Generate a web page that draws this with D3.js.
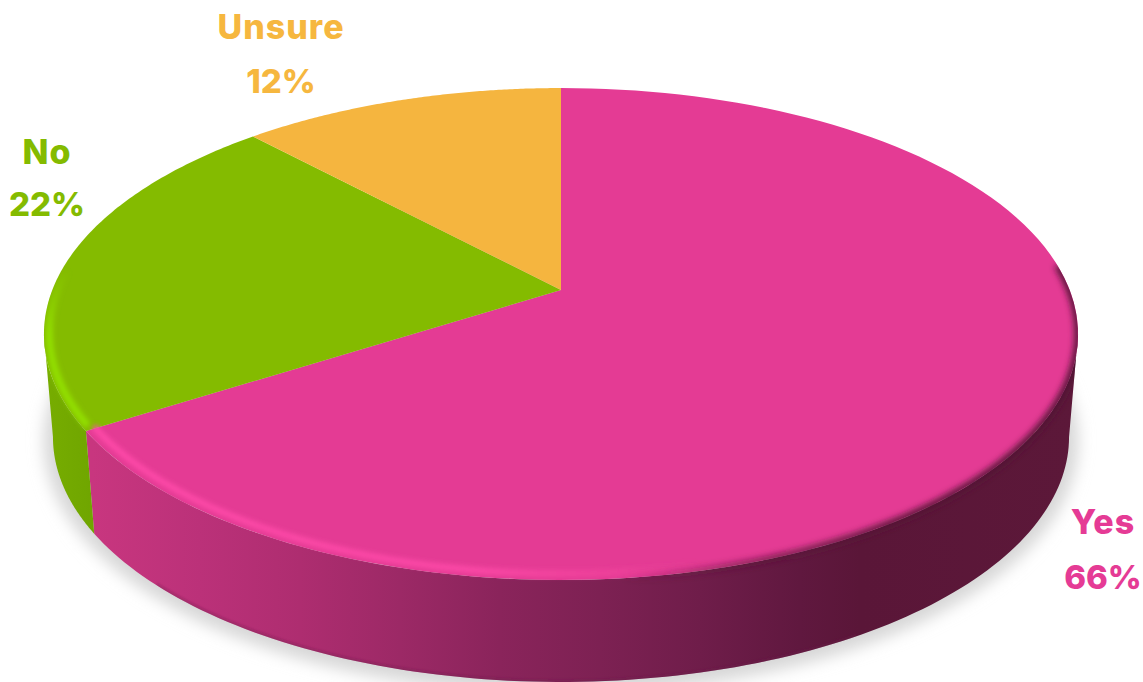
<!DOCTYPE html>
<html>
<head>
<meta charset="utf-8">
<script src="https://cdn.jsdelivr.net/npm/d3@7"></script>
<style>
html,body{margin:0;padding:0;background:#fff;overflow:hidden}
svg{display:block}
text{font-family:Inter,"Noto Sans",sans-serif;font-weight:800;text-anchor:middle}
</style>
</head>
<body>
<div id="chart"></div>
<script>
const categories = ["Yes", "No", "Unsure"];
const values = [66, 22, 12];
const faceColors = ["#e43b94", "#84bb00", "#f5b53f"];
const labelColors = ["#e53b95", "#84bb00", "#f6b73f"];

const W = 1143, H = 682;
const labelAnchors = [
  {x: 1103, name: 534, pct: 589},
  {x: 47, name: 164, pct: 216},
  {x: 281, name: 39, pct: 93}
];
const color = d3.scaleOrdinal(categories, faceColors);
const textColor = d3.scaleOrdinal(categories, labelColors);
const arcs = d3.pie().sort(null).value((d, i) => values[i])(categories);

// Perspective view of the flat disc: apex sits above the centre of the rim ellipse.
const apex = {x: 561, y: 290};
const k = -0.1789, cx = 508.7, cy = 186.2;
function project(a, r = 1) {
  const X = r * Math.sin(a), Y = -r * Math.cos(a), w = 1 + k * Y;
  return [apex.x + cx * X / w, (cy * Y + apex.y) / w];
}
// lower edge of the wall: the rim ellipse moved down and narrowed slightly
function projectBottom(a) {
  const [x, y] = project(a);
  return [apex.x + (x - apex.x) * 508 / 517, 437 + (y - 334) * 245 / 246];
}
const line = d3.line();
const sample = (a0, a1) => d3.range(0, 121).map(i => a0 + (a1 - a0) * i / 120);
const rad = d => d * Math.PI / 180;
const wallStart = rad(100.3), wallEnd = rad(259.7);

const svg = d3.select("#chart").append("svg").attr("width", W).attr("height", H);
const defs = svg.append("defs");

function blur(id, s) {
  defs.append("filter").attr("id", id)
    .attr("filterUnits", "userSpaceOnUse")
    .attr("x", -50).attr("y", -50).attr("width", W + 100).attr("height", H + 100)
    .append("feGaussianBlur").attr("stdDeviation", s);
}
blur("b8", 8); blur("b3", 3); blur("b2", 2.4); blur("b1", 1.2);

function grad(id, stops, vertical) {
  const g = defs.append("linearGradient").attr("id", id)
    .attr("gradientUnits", "userSpaceOnUse");
  if (vertical) g.attr("x1", 0).attr("x2", 0).attr("y1", 0).attr("y2", H);
  else g.attr("x1", 0).attr("x2", W).attr("y1", 0).attr("y2", 0);
  const span = vertical ? H : W;
  stops.forEach(s => g.append("stop")
    .attr("offset", s[0] / span)
    .attr("stop-color", s[1])
    .attr("stop-opacity", s[2] === undefined ? 1 : s[2]));
}
grad("wallYes", [[92,"#c8367f"],[200,"#bb3179"],[300,"#ae2d70"],[400,"#9c2966"],[500,"#8a245b"],[600,"#7d2153"],[700,"#6f1d4a"],[800,"#60183f"],[860,"#5a1638"],[1077,"#5c1839"]]);
grad("wallNo", [[44,"#77ad00"],[97,"#6fa500"]]);
grad("rimHi", [[80,"#ff4aa9",1],[480,"#ff4aa9",.9],[620,"#f6459f",.55],[700,"#f0429f",0]]);
grad("rimDark", [[620,"#5a1638",0],[760,"#5a1638",.7],[900,"#561536",1],[1143,"#4f1333",1]]);
grad("rimNo", [[270,"#93e000",0],[335,"#93e000",1],[440,"#93e000",1]], true);

// soft shadow under the disc
svg.append("ellipse").attr("cx", 561).attr("cy", 441).attr("rx", 517).attr("ry", 252)
  .attr("fill", "#d6d6d6").attr("filter", "url(#b8)");

// clip for rim effects: top face + wall
const topOutline = line(sample(0, 2 * Math.PI).map(a => project(a))) + "Z";
const wallPath = (a0, a1) => {
  const s = sample(a0, a1);
  return line(s.map(a => project(a)).concat(s.reverse().map(projectBottom))) + "Z";
};
const clip = defs.append("clipPath").attr("id", "body");
clip.append("path").attr("d", topOutline);
clip.append("path").attr("d", wallPath(wallStart, wallEnd));

const wallFills = ["url(#wallYes)", "url(#wallNo)", "none"];
// side walls
svg.append("g").selectAll("path")
  .data(arcs.filter(d => d.startAngle < wallEnd && d.endAngle > wallStart))
  .join("path")
  .attr("d", d => wallPath(Math.max(d.startAngle, wallStart), Math.min(d.endAngle, wallEnd)))
  .attr("fill", d => wallFills[d.index]);

// darker lower edge of the wall
svg.append("g").attr("clip-path", "url(#body)")
  .append("path")
  .attr("d", line(sample(rad(150), rad(225)).map(projectBottom)))
  .attr("fill", "none").attr("stroke", "#6a1a4a").attr("stroke-opacity", .3)
  .attr("stroke-width", 5).attr("filter", "url(#b1)");

// top faces
svg.append("g").selectAll("path").data(arcs).join("path")
  .attr("d", d => line([[apex.x, apex.y]].concat(sample(d.startAngle, d.endAngle).map(a => project(a)))) + "Z")
  .attr("fill", d => color(d.data));

// bevel along the rim
const rim = svg.append("g").attr("clip-path", "url(#body)");
rim.append("path")
  .attr("d", line(sample(rad(84), rad(190)).map(a => project(a, 1))))
  .attr("fill", "none").attr("stroke", "url(#rimDark)")
  .attr("stroke-width", 7).attr("filter", "url(#b3)");
rim.append("path")
  .attr("d", line(sample(rad(165), rad(238)).map(a => project(a, .982))))
  .attr("fill", "none").attr("stroke", "url(#rimHi)")
  .attr("stroke-width", 6).attr("filter", "url(#b2)");
rim.append("path")
  .attr("d", line(sample(rad(238.5), rad(292)).map(a => project(a, .99))))
  .attr("fill", "none").attr("stroke", "url(#rimNo)")
  .attr("stroke-width", 7).attr("filter", "url(#b2)");

// labels
const labels = svg.append("g").selectAll("g").data(arcs).join("g")
  .attr("fill", d => textColor(d.data));
labels.append("text")
  .attr("x", d => labelAnchors[d.index].x).attr("y", d => labelAnchors[d.index].name)
  .attr("font-size", 34).attr("letter-spacing", 1).text(d => d.data);
labels.append("text")
  .attr("x", d => labelAnchors[d.index].x).attr("y", d => labelAnchors[d.index].pct)
  .attr("font-size", 33).text(d => d.value + "%");
</script>
</body>
</html>
